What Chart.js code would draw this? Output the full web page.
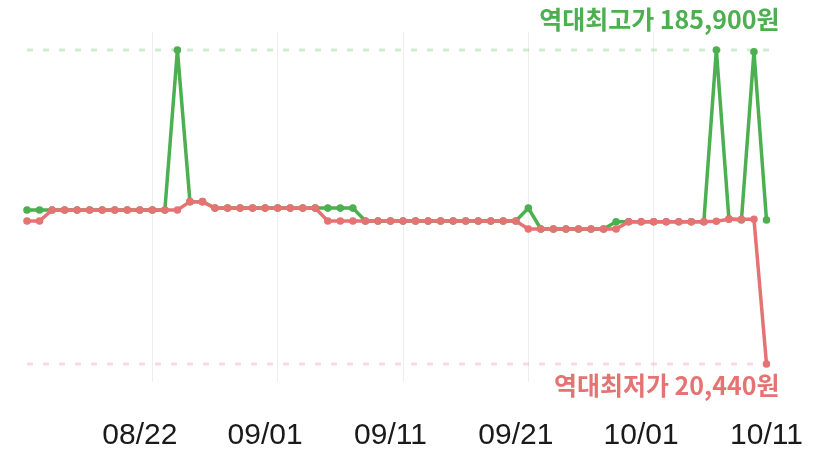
<!DOCTYPE html>
<html>
<head>
<meta charset="utf-8">
<script src="https://cdn.jsdelivr.net/npm/chart.js@4"></script>
<style>
  html, body { margin: 0; padding: 0; background: #fff; }
  #wrap { width: 835px; height: 463px; }
</style>
</head>
<body>
<div id="wrap"><canvas id="chart" width="835" height="463"></canvas></div>
<script>
// dates shown on the x axis (one point per day)
const dates = [
  '08/13','08/14','08/15','08/16','08/17','08/18','08/19','08/20','08/21','08/22',
  '08/23','08/24','08/25','08/26','08/27','08/28','08/29','08/30','08/31','09/01',
  '09/02','09/03','09/04','09/05','09/06','09/07','09/08','09/09','09/10','09/11',
  '09/12','09/13','09/14','09/15','09/16','09/17','09/18','09/19','09/20','09/21',
  '09/22','09/23','09/24','09/25','09/26','09/27','09/28','09/29','09/30','10/01',
  '10/02','10/03','10/04','10/05','10/06','10/07','10/08','10/09','10/10','10/11'
]

// lowest price per day (red)
const lowPrices = [
  95800, 95800, 101600, 101600, 101600, 101600, 101600, 101600, 101600, 101600,
  101600, 101600, 101600, 106000, 106000, 102600, 102600, 102600, 102600, 102600,
  102600, 102600, 102600, 102600, 95800, 95800, 95800, 95800, 95800, 95800,
  95800, 95800, 95800, 95800, 95800, 95800, 95800, 95800, 95800, 95800,
  91600, 91600, 91600, 91600, 91600, 91600, 91600, 91600, 95400, 95400,
  95400, 95400, 95400, 95400, 95400, 95700, 96700, 96700, 96700, 20440
]

// highest price per day (green)
const highPrices = [
  101600, 101600, 101600, 101600, 101600, 101600, 101600, 101600, 101600, 101600,
  101600, 101600, 185900, 106000, 106000, 102600, 102600, 102600, 102600, 102600,
  102600, 102600, 102600, 102600, 102600, 102600, 102600, 95800, 95800, 95800,
  95800, 95800, 95800, 95800, 95800, 95800, 95800, 95800, 95800, 95800,
  102600, 91600, 91600, 91600, 91600, 91600, 91600, 95400, 95400, 95400,
  95400, 95400, 95400, 95400, 95400, 185900, 96900, 96300, 185000, 96300
]

const allTimeHigh = 185900
const allTimeLow = 20440
const highLabel = '역대최고가 185,900원'
const lowLabel = '역대최저가 20,440원'

const green = '#4caf50'
const red = '#e57373'

// dashed reference lines + labels for all-time high / low
const refLines = {
  id: 'refLines',
  beforeDatasetsDraw(chart) {
    const { ctx, chartArea, scales } = chart
    const yHi = scales.y.getPixelForValue(allTimeHigh)
    const yLo = scales.y.getPixelForValue(allTimeLow)
    ctx.save()
    ctx.lineWidth = 3
    ctx.setLineDash([6, 10])
    ctx.strokeStyle = 'rgba(76, 175, 80, 0.25)'
    ctx.beginPath()
    ctx.moveTo(chartArea.left, yHi)
    ctx.lineTo(chartArea.right + 4, yHi)
    ctx.stroke()
    ctx.strokeStyle = 'rgba(229, 115, 115, 0.25)'
    ctx.beginPath()
    ctx.moveTo(chartArea.left, yLo)
    ctx.lineTo(chartArea.right + 4, yLo)
    ctx.stroke()
    ctx.restore()
  },
  afterDatasetsDraw(chart) {
    const { ctx, chartArea, scales } = chart
    const yHi = scales.y.getPixelForValue(allTimeHigh)
    const yLo = scales.y.getPixelForValue(allTimeLow)
    ctx.save()
    ctx.font = 'bold 25px "Noto Sans CJK KR", sans-serif'
    ctx.textAlign = 'right'
    ctx.textBaseline = 'middle'
    ctx.fillStyle = green
    ctx.fillText(highLabel, chartArea.right + 13, yHi - 30)
    ctx.fillStyle = red
    ctx.fillText(lowLabel, chartArea.right + 13, yLo + 21)
    ctx.restore()
  }
}

const config = {
  type: 'line',
  data: {
    labels: dates,
    datasets: [{
      label: 'low',
      data: lowPrices,
      borderColor: red,
      backgroundColor: red,
      borderWidth: 3.5,
      pointRadius: 3.8,
      pointBorderWidth: 0,
      tension: 0
    }, {
      label: 'high',
      data: highPrices,
      borderColor: green,
      backgroundColor: green,
      borderWidth: 3.5,
      pointRadius: 3.8,
      pointBorderWidth: 0,
      tension: 0
    }]
  },
  options: {
    responsive: false,
    animation: false,
    layout: { autoPadding: false, padding: { top: 32, left: 27, right: 68.5, bottom: 0 } },
    plugins: {
      legend: { display: false },
      title: { display: false },
      tooltip: { enabled: false }
    },
    scales: {
      x: {
        offset: false,
        border: { display: false },
        // fixed axis height, no extra side padding from tick labels
        afterFit: scale => {
          scale.height = 81
          scale.paddingLeft = 0
          scale.paddingRight = 0
        },
        grid: {
          drawTicks: false,
          lineWidth: 1,
          color: ctx => (ctx.index % 10 === 0 && ctx.index > 0) ? '#eeeeee' : 'rgba(0,0,0,0)'
        },
        ticks: {
          autoSkip: false,
          maxRotation: 0,
          padding: 36,
          color: '#1a1a1a',
          font: { family: '"Liberation Sans", Arial, sans-serif', size: 30 },
          callback: (value, index) => index % 10 === 9 ? dates[index] : ''
        }
      },
      y: {
        display: false,
        min: 10960,
        max: 195380
      }
    }
  },
  plugins: [refLines]
}

new Chart(document.getElementById('chart').getContext('2d'), config)
</script>
</body>
</html>
